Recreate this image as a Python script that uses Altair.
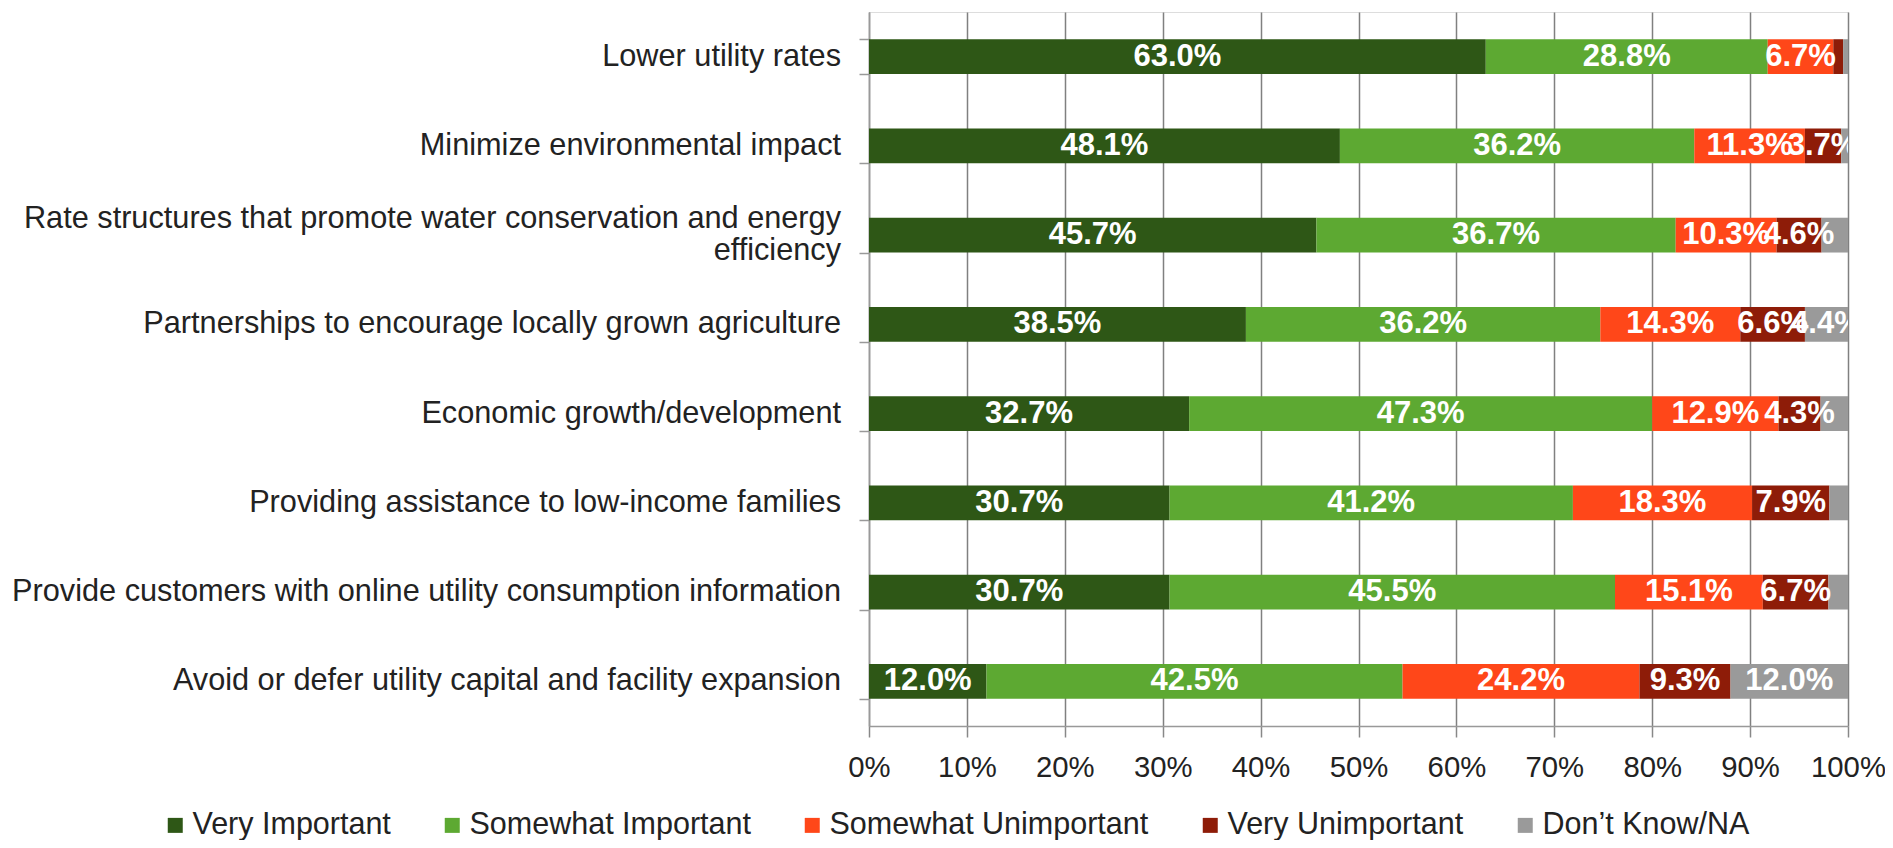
import altair as alt
import pandas as pd

items = [
    "Lower utility rates",
    "Minimize environmental impact",
    "Rate structures that promote water conservation and energy efficiency",
    "Partnerships to encourage locally grown agriculture",
    "Economic growth/development",
    "Providing assistance to low-income families",
    "Provide customers with online utility consumption information",
    "Avoid or defer utility capital and facility expansion",
]
# how each item label is printed ("|" = line break)
item_labels = [
    "Lower utility rates",
    "Minimize environmental impact",
    "Rate structures that promote water conservation and energy|efficiency",
    "Partnerships to encourage locally grown agriculture",
    "Economic growth/development",
    "Providing assistance to low-income families",
    "Provide customers with online utility consumption information",
    "Avoid or defer utility capital and facility expansion",
]
categories = ["Very Important", "Somewhat Important", "Somewhat Unimportant",
              "Very Unimportant", "Don\u2019t Know/NA"]
colors = ["#2E5716", "#5DA932", "#FF4719", "#8E1C08", "#9A9A9A"]

very_important = [63.0, 48.1, 45.7, 38.5, 32.7, 30.7, 30.7, 12.0]
somewhat_important = [28.8, 36.2, 36.7, 36.2, 47.3, 41.2, 45.5, 42.5]
somewhat_unimportant = [6.7, 11.3, 10.3, 14.3, 12.9, 18.3, 15.1, 24.2]
very_unimportant = [1.0, 3.7, 4.6, 6.6, 4.3, 7.9, 6.7, 9.3]
dont_know = [0.5, 0.7, 2.7, 4.4, 2.8, 1.9, 2.0, 12.0]
x_ticks = [0, 10, 20, 30, 40, 50, 60, 70, 80, 90, 100]

series = [very_important, somewhat_important, somewhat_unimportant,
          very_unimportant, dont_know]
rows = []
for ci, (cat, vals) in enumerate(zip(categories, series)):
    for item, v in zip(items, vals):
        rows.append({"item": item, "category": cat, "order": ci, "value": v,
                     "label": f"{v:.1f}%" if v >= 3 else ""})
df = pd.DataFrame(rows)

lab_df = pd.DataFrame({"item": items, "text": item_labels,
                       "multi": ["|" in t for t in item_labels]})

FONT = "Liberation Sans"

base = alt.Chart(df).transform_stack(
    stack="value", as_=["x0", "x1"], groupby=["item"],
    sort=[alt.SortField("order", order="ascending")]
).transform_calculate(mid="(datum.x0 + datum.x1) / 2")

y_scale = alt.Scale(paddingInner=0.61, paddingOuter=0.305)

y_enc = alt.Y("item:N", sort=items, title=None, scale=y_scale,
              axis=alt.Axis(labels=False, tickBand="extent", tickSize=10,
                            tickColor="#999999", tickWidth=1.5,
                            domainColor="#999999", domainWidth=1.5, grid=False))

bars = base.mark_bar().encode(
    x=alt.X("x0:Q", scale=alt.Scale(domain=[0, 100], nice=False), title=None,
            axis=alt.Axis(values=x_ticks, labelExpr="datum.value + '%'",
                          labelFontSize=29.3, labelFont=FONT, labelColor="#222222",
                          labelPadding=16, labelOverlap=False, labelFlush=False,
                          tickSize=11, tickColor="#888888", tickWidth=1.5,
                          domainColor="#999999", domainWidth=1.5,
                          grid=True, gridColor="#808080", gridWidth=1.5)),
    x2="x1:Q",
    y=y_enc,
    color=alt.Color("category:N", sort=categories,
                    scale=alt.Scale(domain=categories, range=colors),
                    legend=alt.Legend(title=None, orient="none", direction="horizontal",
                                      columns=5, legendX=-709, legendY=798,
                                      symbolType="square", symbolSize=225,
                                      symbolStrokeWidth=0, labelFontSize=30.5,
                                      labelFont=FONT, labelColor="#222222",
                                      labelOffset=2, columnPadding=46, padding=0,
                                      labelLimit=1000)),
    order=alt.Order("order:Q"),
)

texts = base.mark_text(color="white", fontSize=31, fontWeight="bold", font=FONT,
                       baseline="middle", align="center", clip=True).encode(
    x=alt.X("mid:Q"),
    y=alt.Y("item:N", sort=items),
    text="label:N",
)

lab_base = alt.Chart(lab_df)
single_labels = lab_base.transform_filter("!datum.multi").mark_text(
    align="right", baseline="middle", fontSize=30.7, font=FONT, color="#222222"
).encode(x=alt.value(-28), y=alt.Y("item:N", sort=items), text="text:N")
multi_labels = lab_base.transform_filter("datum.multi").mark_text(
    align="right", baseline="middle", fontSize=30.7, font=FONT, color="#222222",
    lineBreak="|", lineHeight=32, dy=-16
).encode(x=alt.value(-28), y=alt.Y("item:N", sort=items), text="text:N")

chart = alt.layer(bars, texts, single_labels, multi_labels).properties(
    width=979, height=714,
    autosize=alt.AutoSizeParams(type="none"),
    padding={"left": 861, "top": 4, "right": 37, "bottom": 114},
).configure_view(stroke=None).configure(font=FONT)

chart.save("out.html", embed_options={"renderer": "svg", "actions": False})
